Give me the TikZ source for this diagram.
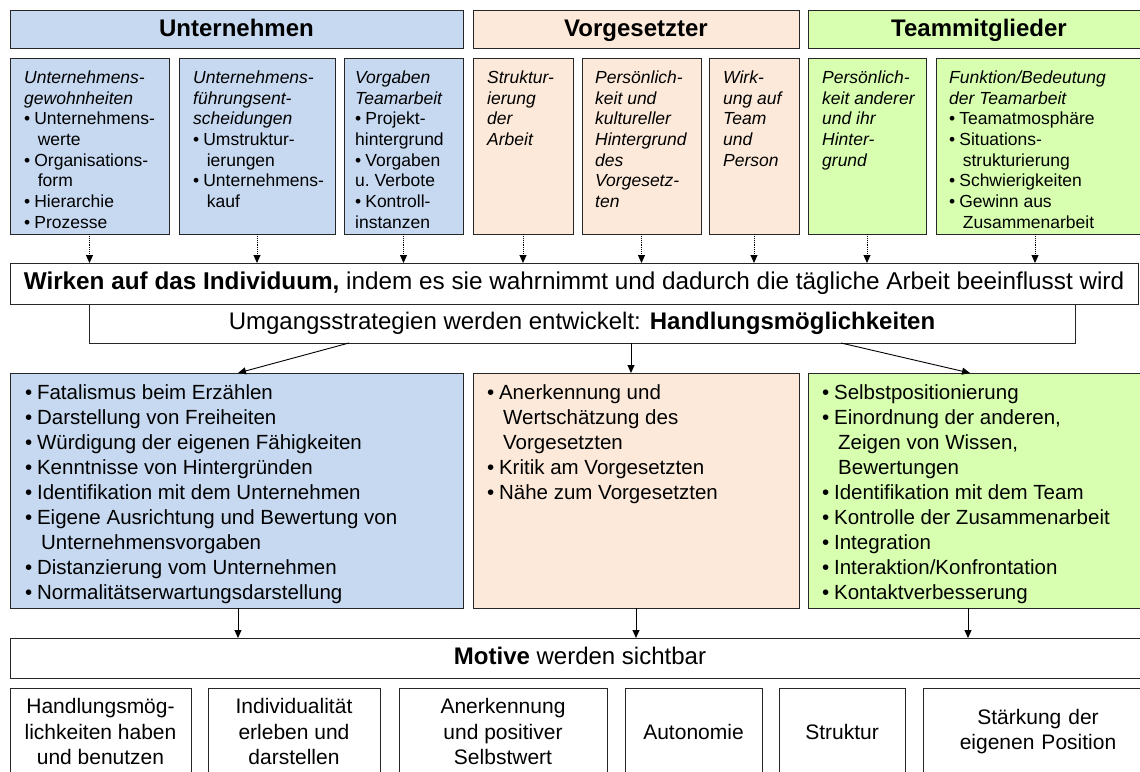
\documentclass[tikz,border=0pt]{standalone}
\usepackage{fontspec}
\setmainfont{Liberation Sans}
\usetikzlibrary{arrows.meta}
\definecolor{cblue}{RGB}{198,217,241}
\definecolor{cpeach}{RGB}{253,233,217}
\definecolor{cgreen}{RGB}{215,255,175}
\newcommand\bu{\makebox[0.58em][l]{•}}
\newcommand\ind{\hspace*{0.78em}}
\begin{document}
\begin{tikzpicture}[x=1pt,y=-1pt,
  box/.style={draw=black!85, line width=1pt, inner sep=0pt, outer sep=0pt, anchor=north west},
  hdr/.style={box, minimum height=38pt, text height=19pt, text depth=3.5pt, font=\fontsize{24}{28}\selectfont\bfseries},
  col/.style={box, minimum height=176pt},
  mid/.style={box, minimum height=235pt},
  bot/.style={box, minimum height=87pt, align=center, font=\fontsize{21}{25.2}\selectfont},
  txt/.style={inner sep=0pt, anchor=north west, align=left, font=\fontsize{17.5}{20.7}\selectfont},
  mtxt/.style={inner sep=0pt, anchor=north west, align=left, font=\fontsize{20.5}{25}\selectfont},
  bar/.style={box, fill=white, text height=17.5pt, text depth=5pt, font=\fontsize{24}{28}\selectfont},
  tarr/.style={-{Triangle[length=8pt,width=7pt]}, densely dotted, line width=0.9pt},
  arr/.style={-{Triangle[length=8pt,width=7pt]}, line width=0.9pt}
]
\clip (0,0) rectangle (1140,771);
\fill[white] (0,0) rectangle (1140,771);
% headers
\node[hdr, fill=cblue, minimum width=453pt] (h1) at (10,10) {Unternehmen};
\node[hdr, fill=cpeach, minimum width=326pt] (h2) at (473,10) {Vorgesetzter};
\node[hdr, fill=cgreen, minimum width=342pt, text width=332pt, align=center] (h3) at (808,10) {Teammitglieder};
% second row
\node[col, fill=cblue, minimum width=159pt] (b1) at (10,58) {};
\node[col, fill=cblue, minimum width=156pt] (b2) at (179,58) {};
\node[col, fill=cblue, minimum width=119pt] (b3) at (344,58) {};
\node[col, fill=cpeach, minimum width=100pt] (b4) at (473,58) {};
\node[col, fill=cpeach, minimum width=119pt] (b5) at (582,58) {};
\node[col, fill=cpeach, minimum width=90pt] (b6) at (709,58) {};
\node[col, fill=cgreen, minimum width=118pt] (b7) at (808,58) {};
\node[col, fill=cgreen, minimum width=214pt] (b8) at (936,58) {};
\node[txt] (t1) at ([xshift=14pt,yshift=-12.5pt]b1.north west) {\textit{Unternehmens-}\\\textit{gewohnheiten}\\\bu Unternehmens-\\\ind werte\\\bu Organisations-\\\ind form\\\bu Hierarchie\\\bu Prozesse};
\node[txt] (t2) at ([xshift=14pt,yshift=-12.5pt]b2.north west) {\textit{Unternehmens-}\\\textit{führungsent-}\\\textit{scheidungen}\\\bu Umstruktur-\\\ind ierungen\\\bu Unternehmens-\\\ind kauf};
\node[txt] (t3) at ([xshift=11pt,yshift=-12.5pt]b3.north west) {\textit{Vorgaben}\\\textit{Teamarbeit}\\\bu Projekt-\\hintergrund\\\bu Vorgaben\\u.\ Verbote\\\bu Kontroll-\\instanzen};
\node[txt] (t4) at ([xshift=14pt,yshift=-12.5pt]b4.north west) {\textit{Struktur-}\\\textit{ierung}\\\textit{der}\\\textit{Arbeit}};
\node[txt] (t5) at ([xshift=13pt,yshift=-12.5pt]b5.north west) {\textit{Persönlich-}\\\textit{keit und}\\\textit{kultureller}\\\textit{Hintergrund}\\\textit{des}\\\textit{Vorgesetz-}\\\textit{ten}};
\node[txt] (t6) at ([xshift=14pt,yshift=-12.5pt]b6.north west) {\textit{Wirk-}\\\textit{ung auf}\\\textit{Team}\\\textit{und}\\\textit{Person}};
\node[txt] (t7) at ([xshift=14pt,yshift=-12.5pt]b7.north west) {\textit{Persönlich-}\\\textit{keit anderer}\\\textit{und ihr}\\\textit{Hinter-}\\\textit{grund}};
\node[txt] (t8) at ([xshift=13pt,yshift=-12.5pt]b8.north west) {\textit{Funktion/Bedeutung}\\\textit{der Teamarbeit}\\\bu Teamatmosphäre\\\bu Situations-\\\ind strukturierung\\\bu Schwierigkeiten\\\bu Gewinn aus\\\ind Zusammenarbeit};
% central bars
\node[bar, minimum width=986pt, minimum height=39pt] (u) at (89,304) {Umgangsstrategien werden entwickelt: \textbf{Handlungsmöglichkeiten}};
\node[bar, minimum width=1128pt, minimum height=41pt, font=\fontsize{24.3}{28}\selectfont] (w) at (10,263) {\textbf{Wirken auf das Individuum,} indem es sie wahrnimmt und dadurch die tägliche Arbeit beeinflusst wird};
% arrows to w
\foreach \b in {b1,b2,b3,b4,b5,b6,b7}{\draw[tarr] (\b.south) -- (\b.south |- w.north);}
\draw[tarr] ([xshift=99pt]b8.south west) -- ([xshift=99pt]b8.south west |- w.north);
% middle boxes
\node[mid, fill=cblue, minimum width=453pt] (m1) at (10,373) {};
\node[mid, fill=cpeach, minimum width=326pt] (m2) at (473,373) {};
\node[mid, fill=cgreen, minimum width=342pt] (m3) at (808,373) {};
\node[mtxt] (s1) at ([xshift=15pt,yshift=-11pt]m1.north west) {\bu Fatalismus beim Erzählen\\\bu Darstellung von Freiheiten\\\bu Würdigung der eigenen Fähigkeiten\\\bu Kenntnisse von Hintergründen\\\bu Identifikation mit dem Unternehmen\\\bu Eigene Ausrichtung und Bewertung von\\\ind Unternehmensvorgaben\\\bu Distanzierung vom Unternehmen\\\bu Normalitätserwartungsdarstellung};
\node[mtxt] (s2) at ([xshift=14pt,yshift=-11pt]m2.north west) {\bu Anerkennung und\\\ind Wertschätzung des\\\ind Vorgesetzten\\\bu Kritik am Vorgesetzten\\\bu Nähe zum Vorgesetzten};
\node[mtxt] (s3) at ([xshift=14pt,yshift=-11pt]m3.north west) {\bu Selbstpositionierung\\\bu Einordnung der anderen,\\\ind Zeigen von Wissen,\\\ind Bewertungen\\\bu Identifikation mit dem Team\\\bu Kontrolle der Zusammenarbeit\\\bu Integration\\\bu Interaktion/Konfrontation\\\bu Kontaktverbesserung};
% arrows from u
\draw[arr] ([xshift=260pt]u.south west) -- ([xshift=228pt]m1.north west);
\draw[arr] ([xshift=542pt]u.south west) -- ([xshift=542pt]u.south west |- m2.north);
\draw[arr] ([xshift=752pt]u.south west) -- ([xshift=162pt]m3.north west);
% motive
\node[bar, minimum width=1140pt, minimum height=40pt] (mo) at (10,638) {\textbf{Motive} werden sichtbar};
\draw[arr] ([xshift=228pt]m1.south west) -- ([xshift=228pt]m1.south west |- mo.north);
\draw[arr] ([xshift=163pt]m2.south west) -- ([xshift=163pt]m2.south west |- mo.north);
\draw[arr] ([xshift=160pt]m3.south west) -- ([xshift=160pt]m3.south west |- mo.north);
% bottom boxes
\node[bot, minimum width=181pt] (c1) at (10,688) {Handlungsmög-\\lichkeiten haben\\und benutzen};
\node[bot, minimum width=172pt] (c2) at (208,688) {Individualität\\erleben und\\darstellen};
\node[bot, minimum width=208pt] (c3) at (399,688) {Anerkennung\\und positiver\\Selbstwert};
\node[bot, minimum width=137pt] (c4) at (625,688) {Autonomie};
\node[bot, minimum width=126pt] (c5) at (779,688) {Struktur};
\node[bot, minimum width=230pt, text width=216pt] (c6) at (923,688) {Stärkung der\\eigenen Position};
\end{tikzpicture}
\end{document}
